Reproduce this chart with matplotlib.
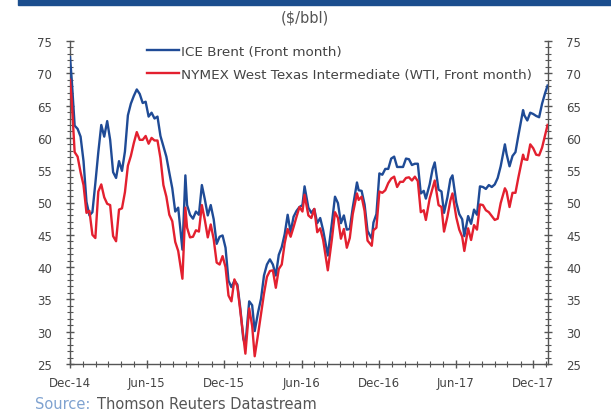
import matplotlib
matplotlib.use("Agg")
import matplotlib.pyplot as plt
import matplotlib.dates as mdates
import pandas as pd
from matplotlib.patches import Rectangle

dates = [
    "2014-12-01", "2014-12-05", "2014-12-12", "2014-12-19", "2014-12-26",
    "2015-01-02", "2015-01-09", "2015-01-16", "2015-01-23", "2015-01-30",
    "2015-02-06", "2015-02-13", "2015-02-20", "2015-02-27", "2015-03-06",
    "2015-03-13", "2015-03-20", "2015-03-27", "2015-04-03", "2015-04-10",
    "2015-04-17", "2015-04-24", "2015-05-01", "2015-05-08", "2015-05-15",
    "2015-05-22", "2015-05-29", "2015-06-05", "2015-06-12", "2015-06-19",
    "2015-06-26", "2015-07-03", "2015-07-10", "2015-07-17", "2015-07-24",
    "2015-07-31", "2015-08-07", "2015-08-14", "2015-08-24", "2015-08-31",
    "2015-09-04", "2015-09-11", "2015-09-18", "2015-09-25", "2015-10-02",
    "2015-10-09", "2015-10-16", "2015-10-23", "2015-10-30", "2015-11-06",
    "2015-11-13", "2015-11-20", "2015-11-27", "2015-12-04", "2015-12-11",
    "2015-12-18", "2015-12-25", "2016-01-01", "2016-01-08", "2016-01-15",
    "2016-01-20", "2016-01-29", "2016-02-05", "2016-02-11", "2016-02-19",
    "2016-02-26", "2016-03-04", "2016-03-11", "2016-03-18", "2016-03-25",
    "2016-04-01", "2016-04-08", "2016-04-15", "2016-04-22", "2016-04-29",
    "2016-05-06", "2016-05-13", "2016-05-20", "2016-05-27", "2016-06-03",
    "2016-06-08", "2016-06-17", "2016-06-24", "2016-07-01", "2016-07-08",
    "2016-07-15", "2016-07-22", "2016-08-02", "2016-08-12", "2016-08-19",
    "2016-08-26", "2016-09-02", "2016-09-09", "2016-09-16", "2016-09-23",
    "2016-09-30", "2016-10-10", "2016-10-14", "2016-10-21", "2016-10-28",
    "2016-11-04", "2016-11-14", "2016-11-18", "2016-11-25", "2016-12-02",
    "2016-12-09", "2016-12-16", "2016-12-23", "2016-12-30", "2017-01-06",
    "2017-01-13", "2017-01-20", "2017-01-27", "2017-02-03", "2017-02-10",
    "2017-02-17", "2017-02-24", "2017-03-03", "2017-03-10", "2017-03-17",
    "2017-03-22", "2017-03-31", "2017-04-07", "2017-04-12", "2017-04-21",
    "2017-04-28", "2017-05-04", "2017-05-12", "2017-05-19", "2017-05-24",
    "2017-06-02", "2017-06-09", "2017-06-16", "2017-06-21", "2017-06-30",
    "2017-07-07", "2017-07-14", "2017-07-21", "2017-07-28", "2017-08-04",
    "2017-08-11", "2017-08-18", "2017-08-25", "2017-09-01", "2017-09-08",
    "2017-09-15", "2017-09-25", "2017-09-29", "2017-10-06", "2017-10-13",
    "2017-10-20", "2017-10-27", "2017-11-07", "2017-11-10", "2017-11-17",
    "2017-11-24", "2017-12-01", "2017-12-08", "2017-12-15", "2017-12-22",
    "2017-12-29", "2018-01-04",
]

brent = [
    72.5, 69.1, 61.9, 61.4, 60.2,
    56.4, 50.1, 48.0, 48.5, 53.0,
    57.8, 62.0, 60.2, 62.6, 59.7,
    54.7, 53.8, 56.4, 54.9, 57.9,
    63.5, 65.3, 66.5, 67.5, 66.8,
    65.4, 65.6, 63.3, 63.9, 63.0,
    63.3, 60.3, 58.7, 57.1, 54.6,
    52.2, 48.6, 49.2, 42.7, 54.2,
    49.6, 48.1, 47.5, 48.6, 48.1,
    52.7, 50.5, 48.0, 49.6, 47.4,
    43.6, 44.7, 44.9, 43.0, 37.9,
    36.9, 37.9, 37.3, 33.6, 28.9,
    27.9, 34.7, 34.1, 30.1, 33.0,
    35.1, 38.7, 40.4, 41.2, 40.4,
    38.7, 41.9, 43.1, 45.1, 48.1,
    45.4, 47.8, 48.7, 49.3, 49.6,
    52.5, 49.2, 48.4, 49.0, 46.8,
    47.6, 45.7, 41.8, 47.0, 50.9,
    49.9, 46.8, 48.0, 45.8, 45.9,
    49.2, 53.1, 51.9, 51.8, 49.7,
    45.6, 44.4, 46.9, 48.2, 54.5,
    54.3, 55.2, 55.2, 56.8, 57.1,
    55.5, 55.5, 55.5, 56.8, 56.7,
    55.8, 56.0, 56.0, 51.4, 51.8,
    50.6, 52.8, 55.2, 56.2, 52.0,
    51.7, 48.4, 50.8, 53.6, 54.2,
    50.0, 48.2, 47.4, 44.8, 47.9,
    46.7, 48.9, 48.1, 52.5, 52.4,
    52.1, 52.7, 52.4, 52.8, 53.8,
    55.6, 59.0, 57.5, 55.6, 57.2,
    57.8, 60.4, 64.3, 63.5, 62.7,
    63.9, 63.7, 63.4, 63.2, 65.3,
    66.9, 68.1,
]

wti = [
    69.0, 65.8, 57.8, 57.1, 54.7,
    52.7, 48.4, 48.7, 45.0, 44.5,
    51.7, 52.8, 50.8, 49.8, 49.6,
    44.8, 44.0, 48.9, 49.1, 51.6,
    55.7, 57.2, 59.2, 60.9, 59.7,
    59.7, 60.3, 59.1, 60.0, 59.6,
    59.6, 56.9, 52.7, 50.9, 48.1,
    47.1, 43.9, 42.5, 38.2, 49.2,
    46.1, 44.6, 44.7, 45.7, 45.5,
    49.6, 47.3, 44.6, 46.6, 44.3,
    40.7, 40.4, 41.7, 40.0, 35.6,
    34.7, 38.1, 37.0, 33.2, 29.4,
    26.6, 33.6, 30.9, 26.2, 29.6,
    32.8, 35.9, 38.5, 39.4, 39.5,
    36.8, 39.7, 40.4, 43.7, 45.9,
    44.7, 46.2, 47.8, 49.3, 48.6,
    51.2, 48.0, 47.6, 49.0, 45.4,
    46.0, 44.2, 39.5, 44.5, 48.5,
    47.6, 44.4, 45.9, 43.0, 44.5,
    48.2, 51.4, 50.4, 50.9, 48.7,
    44.1, 43.3, 45.7, 46.1, 51.7,
    51.5, 51.9, 53.0, 53.7, 54.0,
    52.4, 53.2, 53.2, 53.8, 53.9,
    53.4, 54.0, 53.3, 48.5, 48.8,
    47.3, 50.6, 52.2, 53.4, 49.6,
    49.3, 45.5, 47.8, 50.3, 51.4,
    47.7, 45.8, 44.7, 42.5, 46.0,
    44.2, 46.5, 45.8, 49.7, 49.6,
    48.8, 48.5, 47.9, 47.3, 47.5,
    49.9, 52.2, 51.7, 49.3, 51.5,
    51.5, 53.9, 57.4, 56.7, 56.6,
    59.0, 58.4, 57.4, 57.3, 58.5,
    60.4, 62.0,
]

series_labels = ["ICE Brent (Front month)",
                 "NYMEX West Texas Intermediate (WTI, Front month)"]

x = pd.to_datetime(dates)

fig = plt.figure(figsize=(6.11, 4.14), dpi=100)
fig.patch.set_facecolor("white")

# top banner
fig.patches.append(Rectangle((18 / 611, 1 - 6 / 414), 1, 6 / 414,
                             transform=fig.transFigure, color="#1B4E8E", zorder=0))

ax = fig.add_axes([70 / 611, 1 - 365 / 414, (548 - 70) / 611, (365 - 42) / 414])

blue = "#1F4B96"
red = "#E3202F"
ax.plot(x, brent, color=blue, lw=1.7, label=series_labels[0], zorder=3)
ax.plot(x, wti, color=red, lw=1.7, label=series_labels[1], zorder=4)

ax.set_ylim(25, 75)
ax.set_xlim(pd.Timestamp("2014-12-01"), pd.Timestamp("2018-01-05"))

ax.spines["top"].set_visible(False)
for s in ["left", "right", "bottom"]:
    ax.spines[s].set_color("#555555")
    ax.spines[s].set_linewidth(1.0)

ax.set_yticks(range(25, 76, 5))
ax.yaxis.set_minor_locator(matplotlib.ticker.MultipleLocator(1))
ax.xaxis.set_major_locator(mdates.MonthLocator(bymonth=[6, 12], bymonthday=1))
ax.xaxis.set_minor_locator(mdates.MonthLocator(bymonthday=1))
ax.xaxis.set_major_formatter(mdates.DateFormatter("%b-%y"))

ax.tick_params(axis="y", which="both", left=True, right=True, labelleft=True,
               labelright=True, direction="inout", colors="#555555",
               labelcolor="#444444", labelsize=8.5)
ax.tick_params(axis="y", which="major", length=6, width=1, pad=10)
ax.tick_params(axis="y", which="minor", length=4, width=0.8)
ax.tick_params(axis="x", which="both", direction="inout", colors="#555555",
               labelcolor="#444444", labelsize=8.5)
ax.tick_params(axis="x", which="major", length=6, width=1, pad=6)
ax.tick_params(axis="x", which="minor", length=4, width=0.8)

leg = ax.legend(loc="upper left", bbox_to_anchor=(0.15, 1.005), frameon=False,
                fontsize=9.7, handlelength=2.4, handletextpad=0.15,
                labelspacing=0.75, borderaxespad=0.0)
for t in leg.get_texts():
    t.set_color("#444444")

fig.text(305 / 611, 1 - 18 / 414, "($/bbl)", ha="center", va="center",
         fontsize=10.5, color="#555555")

src1 = fig.text(35 / 611, 1 - 397 / 414, "Source:", ha="left", va="top",
                fontsize=10.5, color="#7FA2D0")
fig.texts.append(matplotlib.text.Annotation(
    "Thomson Reuters Datastream", xy=(1, 0), xycoords=src1,
    xytext=(5, 0), textcoords="offset points", ha="left", va="bottom",
    fontsize=10.5, color="#555555"))
fig.texts[-1].set_figure(fig)

fig.savefig("out.png", dpi=100)
